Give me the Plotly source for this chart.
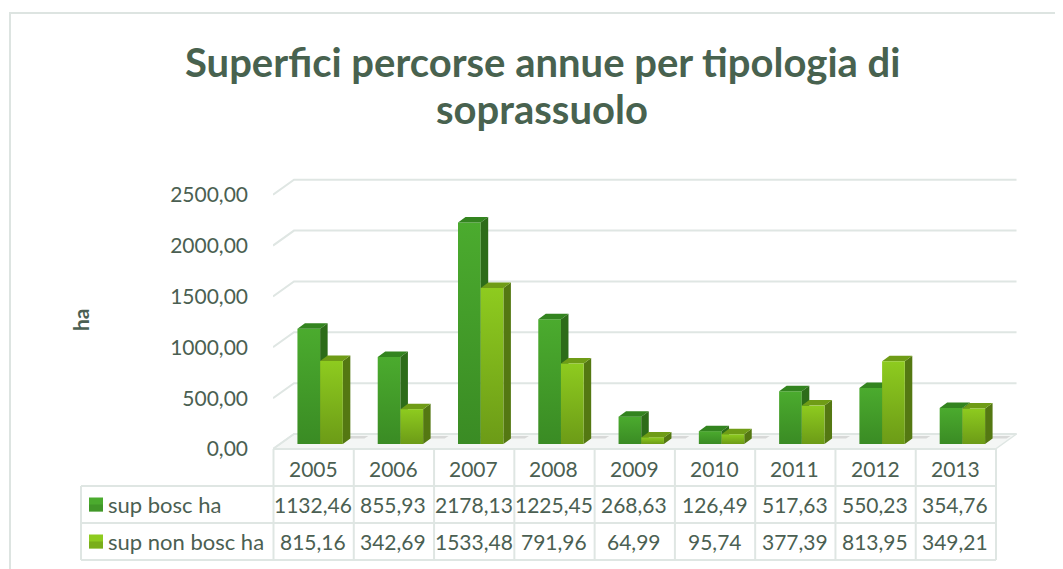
import plotly.graph_objects as go

# ---------------- data ----------------
YEARS = ["2005", "2006", "2007", "2008", "2009", "2010", "2011", "2012", "2013"]
SUP_BOSC = [1132.46, 855.93, 2178.13, 1225.45, 268.63, 126.49, 517.63, 550.23, 354.76]
SUP_NON_BOSC = [815.16, 342.69, 1533.48, 791.96, 64.99, 95.74, 377.39, 813.95, 349.21]
SERIES_NAMES = ["sup bosc ha", "sup non bosc ha"]
Y_TICKS = [0, 500, 1000, 1500, 2000, 2500]
TITLE_LINES = ["Superfici percorse annue per tipologia di", "soprassuolo"]
Y_TITLE = "ha"


def fmt(v):
    return f"{v:.2f}".replace(".", ",")


# ---------------- layout geometry (screen pixels) ----------------
W, H = 1063, 569
OFF = 8                                    # page body margin
PL, PR, PT, PB = 273, 1020, 170, 460       # plot area on screen
CW = 80.28                                 # category width in px
Y0_PX = 449                                # front-plane zero
SLOPE = 0.1017                             # px per unit
UX, UY = 1 / CW, 1 / SLOPE                 # data units per px

XR = [-0.5, -0.5 + (PR - PL) / CW]
YR = [-(PB - Y0_PX) / SLOPE, (Y0_PX - PT) / SLOPE]


def px_x(px):
    return (px - PL) / (PR - PL)


def px_y(py):
    return (PB - py) / (PB - PT)


TEXT_C = "#4b5f52"
TITLE_C = "#48624f"
GRID_C = "#dfe6e3"
FONT = "Lato"

BAR_L = [-15.7, 7.0]       # front face left offsets (px from category center)
BAR_W = 22.7
LIFT = 5.0
DX, DY = 7.5, 5.5
WALL_DX, WALL_DY = 21.0, 15.0

STYLES = [
    dict(front=("#3a8b24", "#4bab2e"), side="#2d6c19", top="#33841f"),
    dict(front=("#6c9b17", "#8ecb1f"), side="#547812", top="#6f9c16"),
]

fig = go.Figure()

# floor
fx0, fx1 = -0.5, len(YEARS) - 0.5
fig.add_trace(go.Scatter(
    x=[fx0, fx1, fx1 + WALL_DX * UX, fx0 + WALL_DX * UX, fx0],
    y=[0, 0, WALL_DY * UY, WALL_DY * UY, 0],
    fill="toself", fillcolor="#f4f6f5", mode="lines",
    line=dict(color=GRID_C, width=1.5), hoverinfo="skip", showlegend=False))

# back-wall gridlines
gx, gy = [], []
for v in Y_TICKS:
    gx += [fx0, fx0 + WALL_DX * UX, fx1 + WALL_DX * UX, None]
    gy += [v, v + WALL_DY * UY, v + WALL_DY * UY, None]
fig.add_trace(go.Scatter(x=gx, y=gy, mode="lines", line=dict(color=GRID_C, width=2),
                         hoverinfo="skip", showlegend=False))

# shadows on the floor
sx, sy = [], []
for i in range(len(YEARS)):
    a = i + (BAR_L[0] + DX) * UX
    b = i + (BAR_L[1] + BAR_W + DX + 14) * UX
    sx += [a, b, b + 4 * UX, a + 4 * UX, a, None]
    sy += [LIFT * UY + DY * UY, LIFT * UY + DY * UY, 13 * UY, 13 * UY, LIFT * UY + DY * UY, None]
fig.add_trace(go.Scatter(x=sx, y=sy, fill="toself", fillcolor="rgba(90,90,90,0.18)",
                         mode="none", hoverinfo="skip", showlegend=False))


def bar_geom(i, v, s):
    xl = i + BAR_L[s] * UX
    xr = xl + BAR_W * UX
    y0 = LIFT * UY
    yt = v + LIFT * UY
    return xl, xr, y0, yt


def add_fronts(vals, s):
    st = STYLES[s]
    for i, v in enumerate(vals):
        xl, xr, y0, yt = bar_geom(i, v, s)
        fig.add_trace(go.Scatter(
            x=[xl, xr, xr, xl, xl], y=[y0, y0, yt, yt, y0],
            fill="toself", mode="none",
            fillgradient=dict(type="vertical",
                              colorscale=[[0, st["front"][0]], [1, st["front"][1]]]),
            name=SERIES_NAMES[s], showlegend=False,
            hovertemplate=f"{SERIES_NAMES[s]}<br>{YEARS[i]}: {fmt(v)}<extra></extra>"))


def add_tops(vals, s):
    xs, ys = [], []
    for i, v in enumerate(vals):
        xl, xr, y0, yt = bar_geom(i, v, s)
        xs += [xl, xr, xr + DX * UX, xl + DX * UX, xl, None]
        ys += [yt, yt, yt + DY * UY, yt + DY * UY, yt, None]
    fig.add_trace(go.Scatter(x=xs, y=ys, fill="toself", fillcolor=STYLES[s]["top"],
                             mode="none", hoverinfo="skip", showlegend=False))


def add_sides(vals, s):
    xs, ys = [], []
    for i, v in enumerate(vals):
        xl, xr, y0, yt = bar_geom(i, v, s)
        xs += [xr, xr + DX * UX, xr + DX * UX, xr, xr, None]
        ys += [y0, y0 + DY * UY, yt + DY * UY, yt, y0, None]
    fig.add_trace(go.Scatter(x=xs, y=ys, fill="toself", fillcolor=STYLES[s]["side"],
                             mode="none", hoverinfo="skip", showlegend=False))


add_fronts(SUP_BOSC, 0)
add_tops(SUP_BOSC, 0)
add_sides(SUP_BOSC, 0)
add_sides(SUP_NON_BOSC, 1)
add_tops(SUP_NON_BOSC, 1)
add_fronts(SUP_NON_BOSC, 1)

# ---------------- data table below the chart ----------------
shapes = []
annotations = []
LINE = dict(color=GRID_C, width=2)
TBL_L, TBL_X0 = 81, PL + 0.5
TBL_X1 = TBL_X0 + CW * len(YEARS)
ROWS = [449, 486, 523, 560]

shapes.append(dict(type="line", xref="paper", yref="paper", x0=px_x(TBL_X0), x1=px_x(TBL_X1),
                   y0=px_y(ROWS[0]), y1=px_y(ROWS[0]), line=LINE))
for r in ROWS[1:]:
    shapes.append(dict(type="line", xref="paper", yref="paper", x0=px_x(TBL_L), x1=px_x(TBL_X1),
                       y0=px_y(r), y1=px_y(r), line=LINE))
shapes.append(dict(type="line", xref="paper", yref="paper", x0=px_x(TBL_L), x1=px_x(TBL_L),
                   y0=px_y(ROWS[1]), y1=px_y(ROWS[3]), line=LINE))
for k in range(len(YEARS) + 1):
    xx = px_x(TBL_X0 + k * CW)
    shapes.append(dict(type="line", xref="paper", yref="paper", x0=xx, x1=xx,
                       y0=px_y(ROWS[0]), y1=px_y(ROWS[3]), line=LINE))

TFONT = dict(family=FONT, size=21, color=TEXT_C)
for i, yr in enumerate(YEARS):
    annotations.append(dict(x=i, y=px_y(468), xref="x", yref="paper", text=yr,
                            showarrow=False, font=TFONT, xanchor="center", yanchor="middle"))
for s, vals in enumerate([SUP_BOSC, SUP_NON_BOSC]):
    cy = (ROWS[s + 1] + ROWS[s + 2]) / 2
    for i, v in enumerate(vals):
        annotations.append(dict(x=i, y=px_y(cy), xref="x", yref="paper", text=fmt(v),
                                showarrow=False, font=TFONT, xanchor="center", yanchor="middle"))
    annotations.append(dict(x=px_x(106), y=px_y(cy), xref="paper", yref="paper",
                            text=SERIES_NAMES[s], showarrow=False,
                            font=dict(family=FONT, size=22, color=TEXT_C),
                            xanchor="left", yanchor="middle"))
    shapes.append(dict(type="rect", xref="paper", yref="paper",
                       x0=px_x(89), x1=px_x(103), y0=px_y(cy - 7), y1=px_y(cy + 7),
                       fillcolor=STYLES[s]["front"][1], line=dict(width=0)))
    shapes.append(dict(type="rect", xref="paper", yref="paper",
                       x0=px_x(89), x1=px_x(103), y0=px_y(cy + 7), y1=px_y(cy),
                       fillcolor=STYLES[s]["front"][0], opacity=0.6, line=dict(width=0)))

# chart border
shapes.append(dict(type="rect", xref="paper", yref="paper", x0=px_x(10), x1=px_x(1080),
                   y0=px_y(590), y1=px_y(13), line=dict(color="#dde4e1", width=2),
                   layer="below"))

# title & axis title
for k, (line_txt, cy) in enumerate(zip(TITLE_LINES, [62, 109])):
    annotations.append(dict(x=px_x(542), y=px_y(cy), xref="paper", yref="paper", text=line_txt,
                            showarrow=False,
                            font=dict(family=FONT, size=40, color=TITLE_C, weight="bold"),
                            xanchor="center", yanchor="middle", align="center"))
annotations.append(dict(x=px_x(80), y=px_y(320), xref="paper", yref="paper", text=Y_TITLE,
                        showarrow=False, textangle=-90,
                        font=dict(family=FONT, size=21, color=TEXT_C, weight="bold"),
                        xanchor="center", yanchor="middle"))

fig.update_layout(
    width=W, height=H,
    margin=dict(l=PL - OFF, r=W - PR + OFF, t=PT - OFF, b=H - PB + OFF, pad=0),
    paper_bgcolor="white", plot_bgcolor="rgba(0,0,0,0)",
    showlegend=False,
    shapes=shapes, annotations=annotations,
    xaxis=dict(range=XR, showgrid=False, zeroline=False, showticklabels=False,
               showline=False, fixedrange=True),
    yaxis=dict(range=YR, tickmode="array", tickvals=Y_TICKS,
               ticktext=[fmt(v) for v in Y_TICKS], showgrid=False, zeroline=False,
               showline=False, ticks="", ticklabelstandoff=24,
               tickfont=dict(family=FONT, size=21, color=TEXT_C), fixedrange=True),
)

fig.write_html("out.html")
